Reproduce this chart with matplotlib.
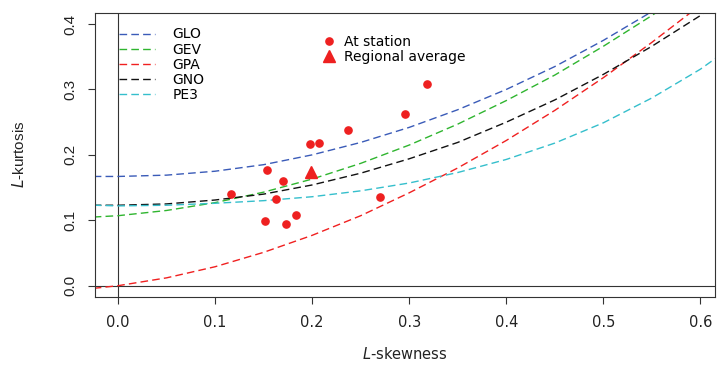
import matplotlib
matplotlib.use("Agg")
import matplotlib.pyplot as plt

plt.rcParams.update({
    "font.family": "DejaVu Sans",
    "mathtext.fontset": "dejavusans",
})

INK = "#333333"
TXT = "#222222"

# theoretical L-moment ratio curves
tau3 = [-0.025, 0.0, 0.05, 0.10, 0.15, 0.20, 0.25, 0.30, 0.35, 0.40, 0.45, 0.50, 0.55, 0.60, 0.65]
glo = [0.167, 0.167, 0.169, 0.175, 0.185, 0.200, 0.219, 0.242, 0.269, 0.300, 0.335, 0.375, 0.419, 0.467, 0.519]
gev = [0.105, 0.107, 0.115, 0.127, 0.143, 0.163, 0.187, 0.215, 0.247, 0.283, 0.322, 0.366, 0.413, 0.464, 0.518]
gpa = [-0.004, 0.000, 0.012, 0.029, 0.051, 0.077, 0.107, 0.142, 0.180, 0.222, 0.268, 0.318, 0.372, 0.429, 0.489]
gno = [0.123, 0.123, 0.125, 0.131, 0.140, 0.154, 0.172, 0.194, 0.219, 0.250, 0.284, 0.323, 0.366, 0.413, 0.466]
pe3 = [0.123, 0.122, 0.123, 0.126, 0.130, 0.136, 0.145, 0.157, 0.173, 0.193, 0.218, 0.249, 0.287, 0.331, 0.384]

# at-site sample L-moment ratios
site_t3 = [0.116, 0.153, 0.170, 0.163, 0.151, 0.173, 0.183, 0.198, 0.207, 0.237, 0.318, 0.296, 0.270]
site_t4 = [0.140, 0.177, 0.160, 0.132, 0.099, 0.095, 0.108, 0.217, 0.218, 0.238, 0.309, 0.262, 0.136]
reg_t3 = [0.199]
reg_t4 = [0.174]

curves = [("GLO", glo, "#3a5bb8"), ("GEV", gev, "#2fb52f"), ("GPA", gpa, "#f02020"),
          ("GNO", gno, "#111111"), ("PE3", pe3, "#35bfcc")]

fig = plt.figure(figsize=(7.17, 3.69), dpi=100, facecolor="white")
ax = fig.add_axes([95 / 717, 1 - 296.7 / 369, 620 / 717, 284 / 369])

ax.axhline(0, color=INK, lw=0.8, zorder=1)
ax.axvline(0, color=INK, lw=0.8, zorder=1)

handles = []
for name, vals, col in curves:
    h, = ax.plot(tau3, vals, color=col, lw=1.0, ls=(0, (5.5, 3)), label=name, zorder=2)
    handles.append(h)

p1, = ax.plot(site_t3, site_t4, ls="none", marker="o", ms=5.2, color="#ee2020",
              mec="#ee2020", label="At station", zorder=3)
p2, = ax.plot(reg_t3, reg_t4, ls="none", marker="^", ms=8.5, color="#ee2020",
              mec="#ee2020", label="Regional average", zorder=3)

ax.set_xlim(-0.0237, 0.615)
ax.set_ylim(-0.0168, 0.4173)
ax.set_xticks([0.0, 0.1, 0.2, 0.3, 0.4, 0.5, 0.6])
ax.set_yticks([0.0, 0.1, 0.2, 0.3, 0.4])
ax.set_xticklabels(["0.0", "0.1", "0.2", "0.3", "0.4", "0.5", "0.6"], fontsize=10.5)
ax.set_yticklabels(["0.0", "0.1", "0.2", "0.3", "0.4"], rotation=90, va="center",
                   fontsize=11, family="Liberation Sans")

for s in ax.spines.values():
    s.set_color(INK)
    s.set_linewidth(0.8)
ax.tick_params(direction="out", length=5, width=0.8, color=INK, labelcolor=TXT)
ax.tick_params(axis="x", pad=8)
ax.tick_params(axis="y", pad=8)

ax.set_xlabel(r"$L$-skewness", fontsize=10.5, color=TXT, labelpad=12)
ax.set_ylabel(r"$\mathit{L}$-kurtosis", fontsize=11, color=TXT, labelpad=26,
              family="Liberation Sans")

leg1 = ax.legend(handles=handles, loc="upper left", bbox_to_anchor=(0.038, 0.948),
                 frameon=False, fontsize=10, labelspacing=0.08, handlelength=2.6,
                 handletextpad=1.3, borderaxespad=0, borderpad=0)
ax.add_artist(leg1)
ax.legend(handles=[p1, p2], loc="upper left", bbox_to_anchor=(0.366, 0.922),
          frameon=False, fontsize=10, labelspacing=0.1, handlelength=1.0,
          handletextpad=0.6, borderaxespad=0, borderpad=0)

fig.savefig("out.png", dpi=100, facecolor="white")
